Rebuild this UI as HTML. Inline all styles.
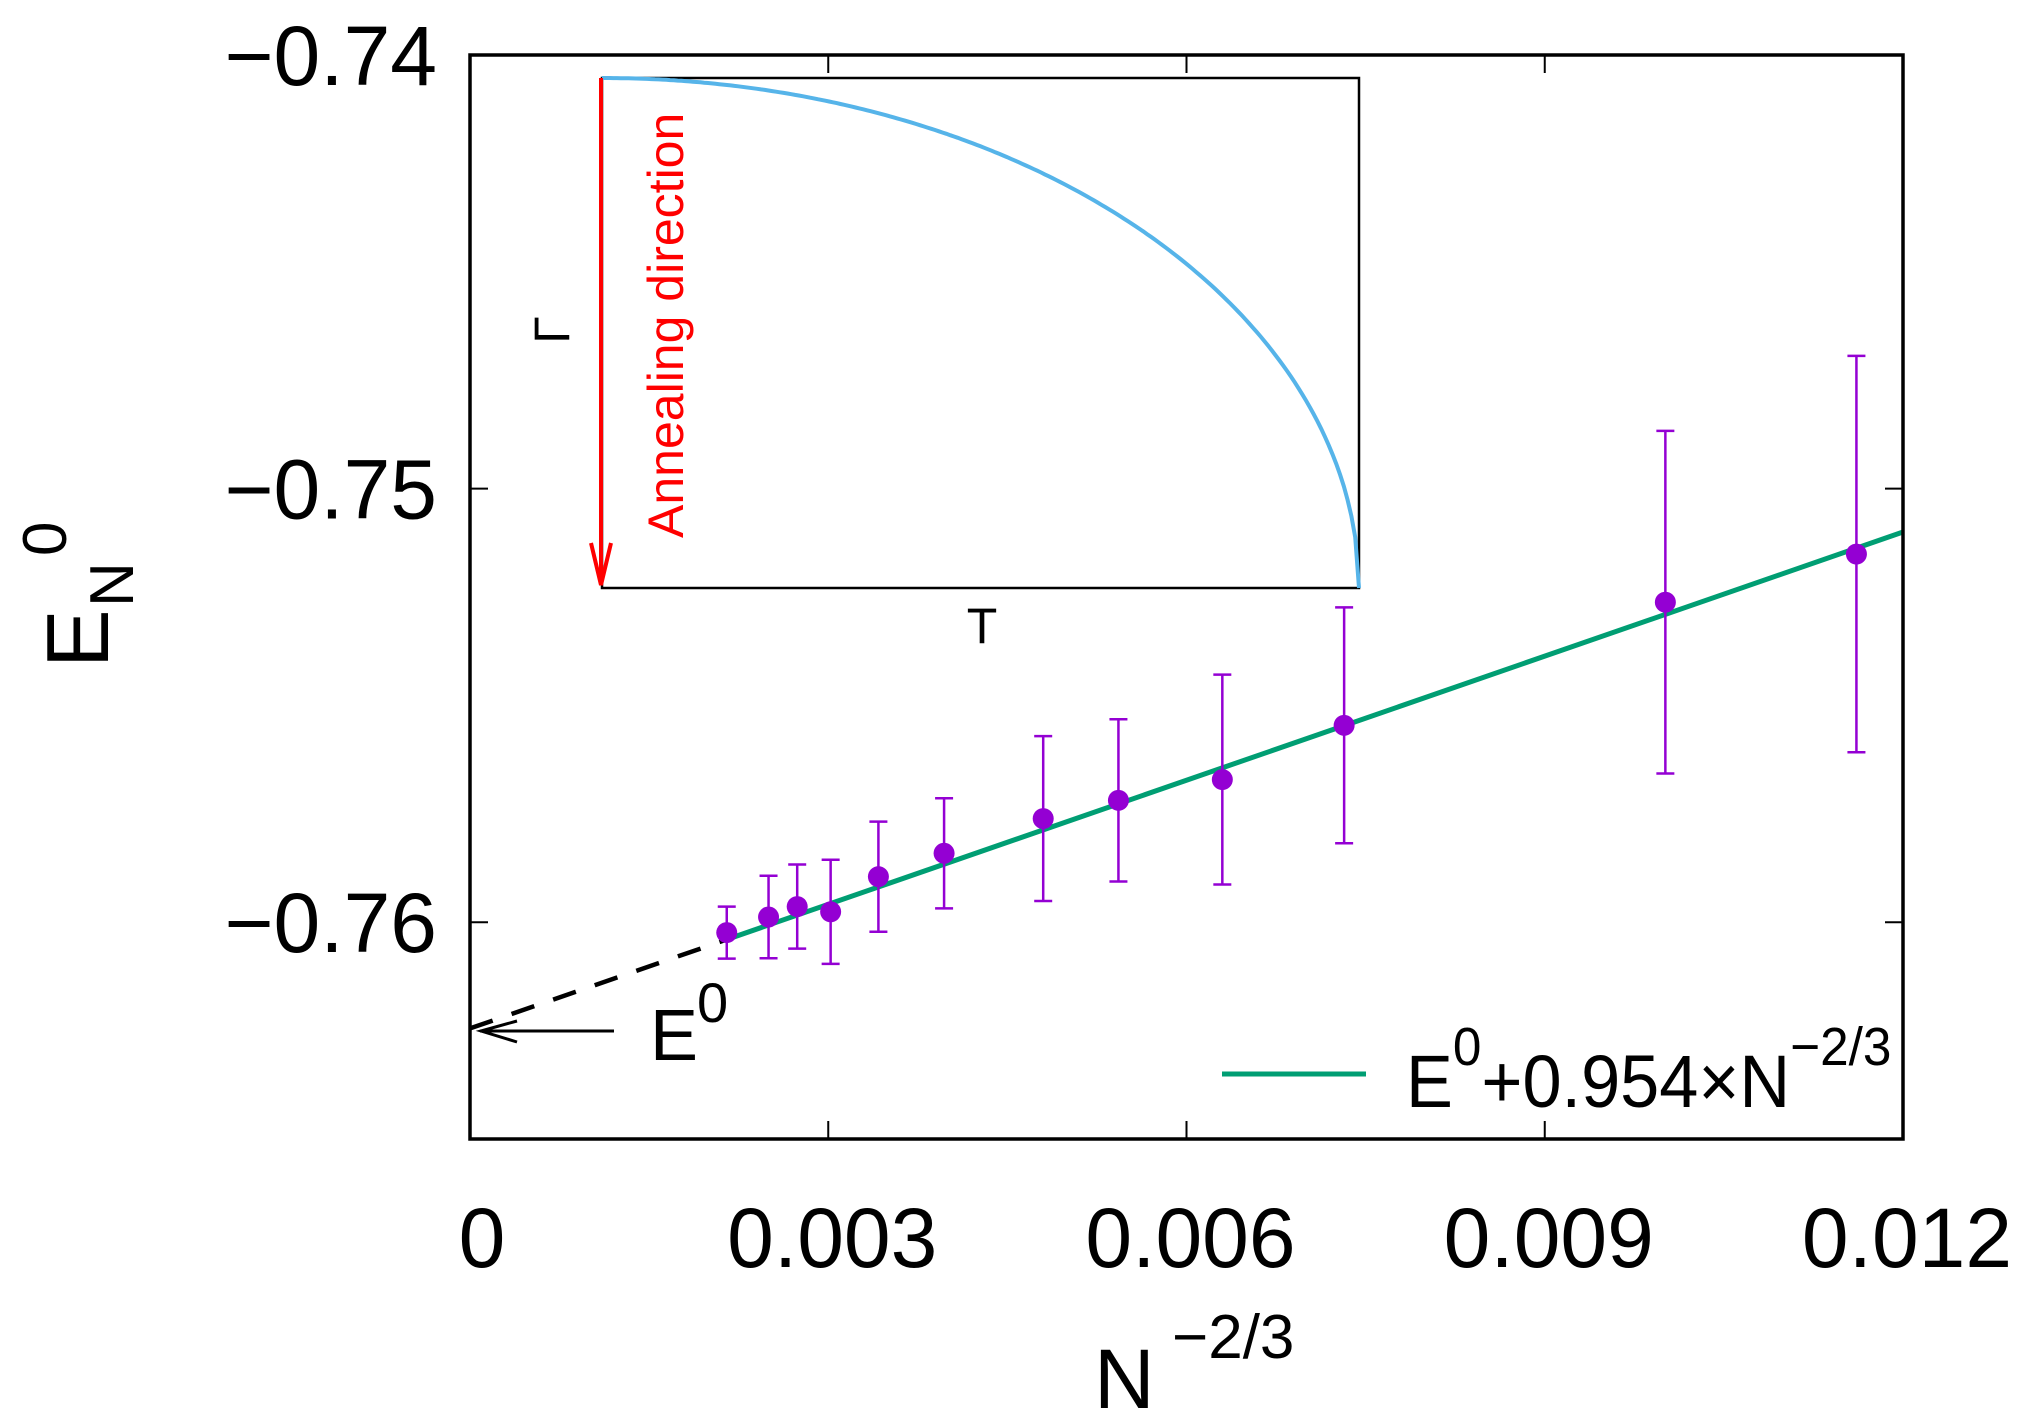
<!DOCTYPE html>
<html><head><meta charset="utf-8"><style>
html,body{margin:0;padding:0;background:#fff}
svg{display:block;font-family:"Liberation Sans",sans-serif}
</style></head><body>
<svg id="chart" width="2034" height="1426" viewBox="0 0 2034 1426" xmlns="http://www.w3.org/2000/svg">
<rect width="2034" height="1426" fill="#fff"/>
<g id="ticks"></g>
<g id="marks"></g>
<rect x="470" y="55" width="1433" height="1084" fill="none" stroke="#000" stroke-width="3.5"/>
<!-- inset -->
<g>
<rect x="602" y="78" width="757" height="510" fill="none" stroke="#000" stroke-width="2.5"/>
<path id="insetCurve" fill="none" stroke="#56b4e9" stroke-width="4"/>
<line x1="601" y1="78" x2="601" y2="582" stroke="#f00" stroke-width="4"/>
<polyline points="591,543 601,585 611,543" fill="none" stroke="#f00" stroke-width="4"/>
<text transform="translate(683,538) rotate(-90)" font-size="50" fill="#f00">Annealing direction</text>
<text transform="translate(569,330) rotate(-90)" font-size="50" fill="#000" text-anchor="middle">Γ</text>
<text x="982" y="643" font-size="50" fill="#000" text-anchor="middle">T</text>
</g>
<!-- E0 annotation -->
<g>
<line x1="480" y1="1031" x2="614" y2="1031" stroke="#000" stroke-width="3"/>
<polyline points="517,1021 481,1031 517,1042" fill="none" stroke="#000" stroke-width="3"/>
<text x="650" y="1060" font-size="72">E</text>
<text x="697" y="1022" font-size="56">0</text>
</g>
<!-- legend -->
<g>
<line x1="1222" y1="1074" x2="1366" y2="1074" stroke="#009e73" stroke-width="5"/>
<text transform="translate(1406,1107) scale(0.95,1)" x="0" y="0" font-size="74">E<tspan dy="-42" font-size="54">0</tspan><tspan dy="42">+0.954×N</tspan><tspan dy="-42" font-size="54">−2/3</tspan></text>
</g>
<!-- axis titles -->
<g>
<text x="1094" y="1408" font-size="84">N</text>
<text x="1172" y="1358" font-size="62">−2/3</text>
</g>
<g transform="translate(108,668) rotate(-90)">
<text x="0" y="0" font-size="88">E</text>
<text x="61" y="25" font-size="62">N</text>
<text x="112" y="-42" font-size="62">0</text>
</g>
<script>
const xTicks = [0, 0.003, 0.006, 0.009, 0.012];
const xTickLabels = ["0", "0.003", "0.006", "0.009", "0.012"];
const yTicks = [-0.74, -0.75, -0.76];
const yTickLabels = ["−0.74", "−0.75", "−0.76"];
const xValues = [0.00215, 0.0025, 0.00274, 0.00302, 0.00342, 0.00397, 0.0048, 0.00543, 0.0063, 0.00732, 0.01001, 0.01161];
const yValues = [-0.76024, -0.75988, -0.75964, -0.75976, -0.75895, -0.75841, -0.75761, -0.75719, -0.75671, -0.75546, -0.75262, -0.75151];
const yErrors = [0.0006, 0.00095, 0.00097, 0.0012, 0.00127, 0.00127, 0.0019, 0.00187, 0.00242, 0.00272, 0.00395, 0.00457];
const fitIntercept = -0.76245;
const fitSlope = 0.954;
const fitSolidStart = 0.00215;

const X0 = 470, X1 = 1903, Y0 = 55, Y1 = 1139;
const xMin = 0, xMax = 0.012, yMin = -0.765, yMax = -0.74;
const sx = v => X0 + (v - xMin) / (xMax - xMin) * (X1 - X0);
const sy = v => Y1 - (v - yMin) / (yMax - yMin) * (Y1 - Y0);
const NS = "http://www.w3.org/2000/svg";
function mk(tag, attrs, parent) {
  const e = document.createElementNS(NS, tag);
  for (const k in attrs) e.setAttribute(k, attrs[k]);
  parent.appendChild(e);
  return e;
}
const ticks = document.getElementById('ticks');
const marks = document.getElementById('marks');
xTicks.forEach((v, i) => {
  const x = sx(v);
  if (i > 0 && i < xTicks.length - 1) {
    let t = mk('line', {x1: x, y1: Y1, x2: x, y2: Y1 - 18, stroke: '#000', 'stroke-width': 2}, ticks);
    
    
    t = mk('line', {x1: x, y1: Y0, x2: x, y2: Y0 + 18, stroke: '#000', 'stroke-width': 2}, ticks);
    
    
  }
  const lb = mk('text', {x: i === 0 ? x + 12 : x + 4, y: 1267, 'font-size': 84, 'text-anchor': 'middle'}, ticks);
  lb.textContent = xTickLabels[i];
  
  
});
yTicks.forEach((v, i) => {
  const y = sy(v);
  let t = mk('line', {x1: X0, y1: y, x2: X0 + 18, y2: y, stroke: '#000', 'stroke-width': 2}, ticks);
  
  
  t = mk('line', {x1: X1, y1: y, x2: X1 - 18, y2: y, stroke: '#000', 'stroke-width': 2}, ticks);
  
  
  const lb = mk('text', {x: 437, y: y + 30, 'font-size': 84, 'text-anchor': 'end'}, ticks);
  lb.textContent = yTickLabels[i];
  
  
});
// fit line
const fit = v => fitIntercept + fitSlope * v;
let dl = mk('line', {x1: sx(0), y1: sy(fit(0)), x2: sx(fitSolidStart), y2: sy(fit(fitSolidStart)), stroke: '#000', 'stroke-width': 4.5, 'stroke-dasharray': '24,20'}, marks);


let fl = mk('line', {x1: sx(fitSolidStart), y1: sy(fit(fitSolidStart)), x2: sx(xMax), y2: sy(fit(xMax)), stroke: '#009e73', 'stroke-width': 5}, marks);


// error bars + points
xValues.forEach((xv, i) => {
  const x = sx(xv), y = sy(yValues[i]);
  const yt = sy(yValues[i] + yErrors[i]), yb = sy(yValues[i] - yErrors[i]);
  const g = mk('g', {stroke: '#9400d3', 'stroke-width': 2.5}, marks);
  
  
  mk('line', {x1: x, y1: yt, x2: x, y2: yb}, g);
  mk('line', {x1: x - 9, y1: yt, x2: x + 9, y2: yt}, g);
  mk('line', {x1: x - 9, y1: yb, x2: x + 9, y2: yb}, g);
  const c = mk('circle', {cx: x, cy: y, r: 10.5, fill: '#9400d3'}, marks);
  
  
});
// inset curve (quarter ellipse)
const IL = 602, IR = 1359, IT = 78, IB = 588;
let d = '';
for (let k = 0; k <= 200; k++) {
  const t = k / 200;
  const g = Math.sqrt(Math.max(0, 1 - t * t));
  d += (k ? 'L' : 'M') + (IL + t * (IR - IL)).toFixed(1) + ',' + (IB - g * (IB - IT)).toFixed(1);
}
document.getElementById('insetCurve').setAttribute('d', d);
</script>
</svg>
</body></html>
